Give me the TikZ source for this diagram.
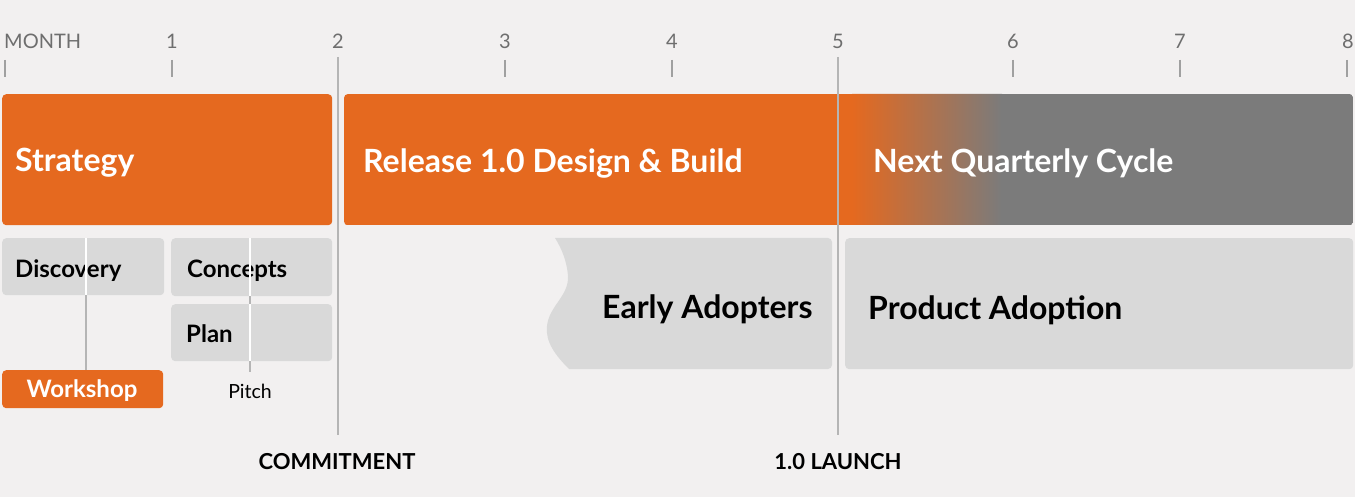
\documentclass[tikz,border=0pt]{standalone}
\usepackage{fontspec}
\setmainfont{Lato}
\definecolor{bgc}{HTML}{F2F0F0}
\definecolor{brand}{HTML}{E5691F}
\definecolor{slate}{HTML}{7B7B7B}
\definecolor{boxc}{HTML}{D9D9D9}
\definecolor{rulec}{HTML}{B5B5B5}
\definecolor{tickc}{HTML}{A0A0A0}
\definecolor{numc}{HTML}{6E6E6E}
\begin{document}
\begin{tikzpicture}[x=1pt,y=-1pt,
  bar/.style={fill=brand,rounded corners=4pt,inner sep=0pt,anchor=north west},
  lbox/.style={fill=boxc,rounded corners=4pt,inner sep=0pt,anchor=north west},
  bigtxt/.style={text=white,font=\fontsize{32}{38}\selectfont\bfseries,inner sep=0pt,anchor=base west},
  boxtxt/.style={text=black,font=\fontsize{24}{28}\selectfont\bfseries,inner sep=0pt,anchor=base west},
  adtxt/.style={text=black,font=\fontsize{32}{38}\selectfont\bfseries,inner sep=0pt,anchor=base west},
  numtxt/.style={text=numc,font=\fontsize{20}{24}\selectfont,inner sep=0pt,anchor=base},
  mstxt/.style={text=black,font=\fontsize{22}{26}\selectfont\bfseries,inner sep=0pt,anchor=base},
  tick/.style={draw=tickc,line width=1.6pt},
  mline/.style={draw=rulec,line width=2pt},
  inner/.style={draw=white,line width=1.6pt},
  link/.style={draw=rulec,line width=1.6pt}]
\fill[bgc] (0,0) rectangle (1355,497);
\useasboundingbox (0,0) rectangle (1355,497);

% month scale
\node[numtxt,anchor=base west] (m0) at (4,49) {MONTH};
\foreach \n/\x in {1/172,2/338,3/505,4/672,5/838,6/1013,7/1180,8/1348}
  \node[numtxt] (m\n) at (\x,49) {\n};
\foreach \x in {5,172,505,672,1013,1180,1347}
  \draw[tick] (\x,60) -- (\x,77);

% phase bars
\node[bar,minimum width=330pt,minimum height=131pt] (strategy) at (2,94) {};
\node[bigtxt] (strategyT) at (15,172) {Strategy};
\node[inner sep=0pt,anchor=north west,minimum width=1009pt,minimum height=131pt] (release) at (344,94) {};
\begin{scope}
  \clip[rounded corners=4pt] (release.north west) rectangle (release.south east);
  \fill[brand] (344,94) rectangle (853,225);
  \shade[left color=brand,right color=slate] (852,94) rectangle (1002,225);
  \fill[slate] (1001,94) rectangle (1353,225);
\end{scope}
\node[bigtxt] (releaseT) at (363,173) {Release 1.0 Design \& Build};
\node[bigtxt] (nextT) at (873,173) {Next Quarterly Cycle};

% strategy sub-phases
\node[lbox,minimum width=162pt,minimum height=57pt] (disc) at (2,238) {};
\node[boxtxt] at (15,277) {Discovery};
\node[lbox,minimum width=161pt,minimum height=58pt] (conc) at (171,238) {};
\node[boxtxt] at (187,277) {Concepts};
\node[lbox,minimum width=161pt,minimum height=57pt] (plan) at (171,304) {};
\node[boxtxt] at (186,342) {Plan};
\node[bar,minimum width=161pt,minimum height=38pt] (work) at (2,370) {};
\node[text=white,font=\fontsize{24}{28}\selectfont\bfseries,inner sep=0pt,anchor=base] at (82,397) {Workshop};
\node[text=black,font=\fontsize{19.5}{23}\selectfont,inner sep=0pt,anchor=base] (pitch) at (250,398) {Pitch};

% links from sub-phases
\coordinate (dA) at (86,238);
\coordinate (dB) at (86,295);
\coordinate (pA) at (250,238);
\coordinate (pB) at (250,296);
\coordinate (pC) at (250,304);
\coordinate (pD) at (250,361);
\coordinate (pE) at (250,372);
\draw[inner] (dA) -- (dB);
\draw[link] (dB) -- (work.north -| dB);
\draw[inner] (pA) -- (pB);
\draw[link] (pB) -- (pC);
\draw[inner] (pC) -- (pD);
\draw[link] (pD) -- (pE);

% adoption phases
\fill[boxc] (555,238) -- (828,238) arc[start angle=90,end angle=0,radius=4pt]
  -- (832,365) arc[start angle=0,end angle=-90,radius=4pt] -- (569,369)
  .. controls (556,356) and (545,342) .. (547,326)
  .. controls (549,306) and (569,296) .. (568,276)
  .. controls (567,262) and (562,249) .. (555,238) -- cycle;
\node[adtxt] (early) at (602,318) {Early Adopters};
\node[lbox,minimum width=508pt,minimum height=131pt] (prod) at (845,238) {};
\node[adtxt] (prodT) at (868,319) {Product Adoption};

% milestones
\node[mstxt] (commit) at (337,469) {COMMITMENT};
\node[mstxt] (launch) at (838,469) {1.0 LAUNCH};
\coordinate (c2) at (338,57);
\coordinate (c5) at (838,57);
\draw[mline] (c2) -- (c2 |- 0,435);
\draw[mline] (c5) -- (c5 |- 0,435);
\end{tikzpicture}
\end{document}
